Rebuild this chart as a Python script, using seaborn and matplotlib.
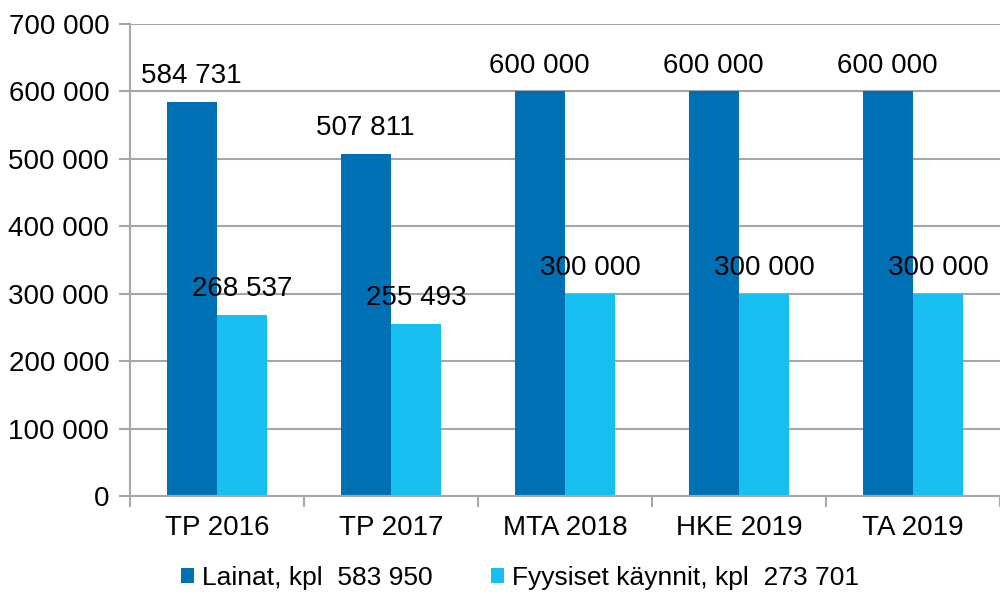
import matplotlib
matplotlib.use("Agg")
import matplotlib.pyplot as plt
import seaborn as sns
import pandas as pd
from matplotlib.ticker import FuncFormatter, FixedLocator

categories = ["TP 2016", "TP 2017", "MTA 2018", "HKE 2019", "TA 2019"]
series_names = ["Lainat, kpl  583 950", "Fyysiset käynnit, kpl  273 701"]
lainat = [584731, 507811, 600000, 600000, 600000]
kaynnit = [268537, 255493, 300000, 300000, 300000]
colors = ["#0070B5", "#17BFF0"]

df = pd.DataFrame({
    "cat": categories * 2,
    "series": [series_names[0]] * len(categories) + [series_names[1]] * len(categories),
    "value": lainat + kaynnit,
})

sns.set_style("white")
plt.rcParams["font.family"] = ["Liberation Sans", "DejaVu Sans"]
plt.rcParams["text.color"] = "black"
plt.rcParams["xtick.labelcolor"] = "black"
plt.rcParams["ytick.labelcolor"] = "black"

fig = plt.figure(figsize=(10, 5.96), dpi=100)
ax = fig.add_axes([0.13, 0.1678, 0.87, 0.792])

sns.barplot(data=df, x="cat", y="value", hue="series", palette=colors,
            width=0.58, ax=ax, saturation=1, order=categories,
            hue_order=series_names, edgecolor="none", linewidth=0)

def fmt(v):
    return f"{int(round(v)):,}".replace(",", " ")

for cont in ax.containers:
    ax.bar_label(cont, labels=[fmt(b.get_height()) for b in cont],
                 padding=9, fontsize=20, color="black")

ax.set_ylim(0, 700000)
ax.set_xlim(-0.5, len(categories) - 0.5)
ax.yaxis.set_major_locator(FixedLocator(range(0, 700001, 100000)))
ax.yaxis.set_major_formatter(FuncFormatter(lambda v, p: fmt(v)))
ax.grid(axis="y", color="#A6A6A6", linewidth=1.5)
ax.set_axisbelow(True)
ax.set_xlabel("")
ax.set_ylabel("")

for s in ["top", "right"]:
    ax.spines[s].set_visible(False)
for s in ["left", "bottom"]:
    ax.spines[s].set_color("#A6A6A6")
    ax.spines[s].set_linewidth(1.5)

ax.tick_params(axis="y", which="major", direction="out", length=8, width=1.5,
               color="#A6A6A6", labelcolor="black", labelsize=20, pad=7, left=True)
ax.tick_params(axis="x", which="major", length=0, labelsize=20, pad=14,
               labelcolor="black")
ax.xaxis.set_minor_locator(FixedLocator([i - 0.5 for i in range(len(categories) + 1)]))
ax.tick_params(axis="x", which="minor", direction="out", length=8, width=1.5,
               color="#A6A6A6", bottom=True)

leg = ax.legend(loc="center", bbox_to_anchor=(0.52, 0.03),
                bbox_transform=fig.transFigure, ncol=2, frameon=False,
                fontsize=19, handlelength=0.5, handleheight=0.5,
                handletextpad=0.3, columnspacing=2.2, labelcolor="black")

fig.savefig("out.png", dpi=100)
